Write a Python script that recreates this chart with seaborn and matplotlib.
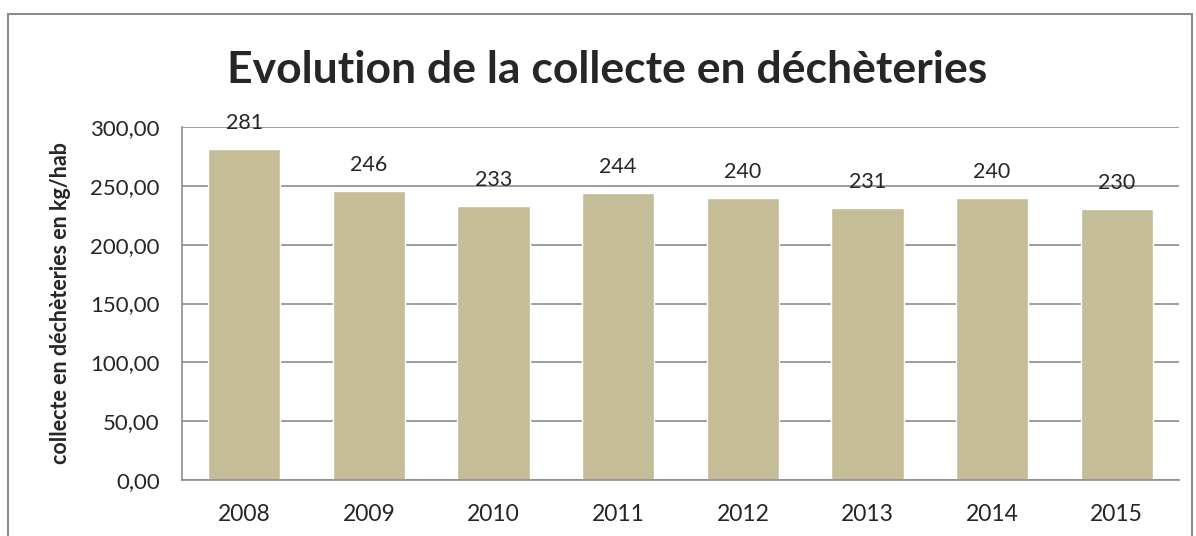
import pandas as pd
import matplotlib
matplotlib.use("Agg")
import matplotlib.pyplot as plt
import seaborn as sns
from matplotlib.patches import Rectangle

years = ["2008", "2009", "2010", "2011", "2012", "2013", "2014", "2015"]
collecte = [281, 246, 233, 244, 240, 231, 240, 230]
yticks = [0, 50, 100, 150, 200, 250, 300]

BAR = "#C4BD97"
GRID = "#8C8C8C"

sns.set_style("white")
plt.rcParams["font.family"] = ["Lato", "DejaVu Sans"]

df = pd.DataFrame({"annee": years, "kg": collecte})

fig = plt.figure(figsize=(11.96, 5.36), dpi=100)
ax = fig.add_axes([182 / 1196, 1 - 480 / 536, (1179 - 182) / 1196, (480 - 127) / 536])

sns.barplot(data=df, x="annee", y="kg", color=BAR, width=0.58, saturation=1, ax=ax)

ax.set_ylim(0, 300)
ax.set_yticks(yticks)
ax.set_yticklabels([f"{v:.2f}".replace(".", ",") for v in yticks], fontsize=16)
ax.yaxis.grid(True, color=GRID, linewidth=1.2)
ax.set_axisbelow(True)
ax.tick_params(axis="y", length=7, color=GRID, width=1.2, pad=9)
ax.tick_params(axis="x", length=0, labelsize=16.5, pad=17)
for s in ["top", "right"]:
    ax.spines[s].set_visible(False)
for s in ["left", "bottom"]:
    ax.spines[s].set_color(GRID)
    ax.spines[s].set_linewidth(1.2)

for i, v in enumerate(collecte):
    ax.text(i, v + 22, str(v), ha="center", va="center", fontsize=15.5)

ax.set_xlabel("")
ax.set_ylabel("collecte en déchèteries en kg/hab", fontsize=15.5, weight="bold", labelpad=14)

fig.text(0.508, 1 - 70 / 536, "Evolution de la collecte en déchèteries",
         ha="center", va="center", fontsize=32, weight="bold")

fig.patches.append(Rectangle((8 / 1196, -0.05), (1192 - 8) / 1196, 1.05 - 14 / 536,
                             transform=fig.transFigure, fill=False,
                             edgecolor="#8C8C8C", linewidth=1.5))

fig.savefig("out.png", dpi=100, facecolor="white")
